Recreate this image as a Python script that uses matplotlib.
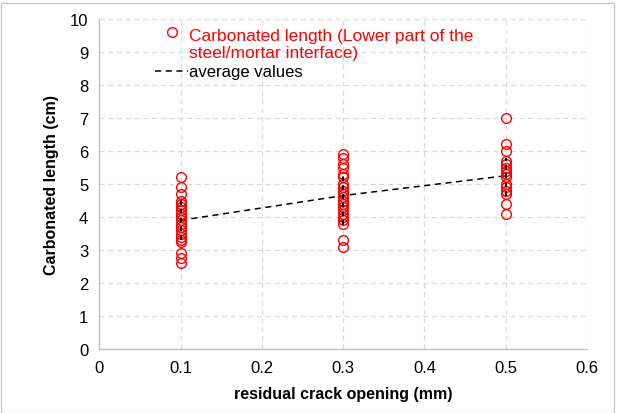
import matplotlib
matplotlib.use("Agg")
import matplotlib.pyplot as plt
from matplotlib.lines import Line2D
from matplotlib.patches import Rectangle

plt.rcParams['font.family'] = ['Liberation Sans', 'DejaVu Sans']

# Data
crack_openings = [0.1, 0.3, 0.5]
carb_01 = [5.2, 4.9, 4.7, 4.5, 4.4, 4.3, 4.2, 4.1, 4.0, 3.9, 3.8, 3.7, 3.6, 3.5, 3.4, 3.3, 3.25, 2.9, 2.75, 2.6]
carb_03 = [5.9, 5.8, 5.6, 5.5, 5.3, 5.2, 5.0, 4.9, 4.8, 4.7, 4.6, 4.5, 4.4, 4.3, 4.2, 4.1, 4.0, 3.9, 3.8, 3.3, 3.1]
carb_05 = [7.0, 6.2, 6.0, 5.7, 5.6, 5.5, 5.4, 5.3, 5.2, 5.0, 4.9, 4.8, 4.7, 4.4, 4.1]
average_values = [3.9, 4.65, 5.25]
range_low = [3.3, 3.75, 4.65]
range_high = [4.6, 5.3, 5.8]

x_ticks = [0, 0.1, 0.2, 0.3, 0.4, 0.5, 0.6]
y_ticks = list(range(0, 11))

fig = plt.figure(figsize=(6.19, 4.14), dpi=100)
ax = fig.add_axes([0.1607, 0.1546, 0.7876, 0.797])

grid_kw = dict(color='#d9d9d9', linestyle=(0, (4, 3)), linewidth=0.9, zorder=0)
for yt in y_ticks[1:]:
    ax.axhline(yt, **grid_kw)
for xt in x_ticks[1:]:
    ax.axvline(xt, **grid_kw)

# average line
ax.plot(crack_openings, average_values, color='black', linestyle=(0, (4, 3)), linewidth=1.1, zorder=2)

for x, vals in zip(crack_openings, [carb_01, carb_03, carb_05]):
    ax.plot([x] * len(vals), vals, linestyle='none', marker='o', markersize=7,
            markerfacecolor='none', markeredgecolor='#ff0000', markeredgewidth=1.0, zorder=3)

# vertical dashed segments within each cluster
for x, lo, hi in zip(crack_openings, range_low, range_high):
    ax.plot([x, x], [lo, hi], color='black', linestyle=(0, (2.5, 2)), linewidth=1.4, zorder=4)

ax.set_xlim(0, 0.6)
ax.set_ylim(0, 10)
ax.set_xticks(x_ticks)
ax.set_xticklabels(['0', '0.1', '0.2', '0.3', '0.4', '0.5', '0.6'])
ax.set_yticks(y_ticks)
ax.tick_params(axis='both', length=0, labelsize=12, pad=8)
for s in ['top', 'right']:
    ax.spines[s].set_visible(False)
for s in ['left', 'bottom']:
    ax.spines[s].set_color('#bfbfbf')
    ax.spines[s].set_linewidth(1.0)

ax.set_xlabel('residual crack opening (mm)', fontsize=11.5, fontweight='bold', labelpad=8)
ax.set_ylabel('Carbonated length (cm)', fontsize=11.5, fontweight='bold', labelpad=8)

# Legend (manual)
fig.add_artist(Line2D([172 / 619], [1 - 33 / 414], transform=fig.transFigure, marker='o',
                      markersize=7, markerfacecolor='none', markeredgecolor='#ff0000',
                      linestyle='none'))
fig.text(189 / 619, 1 - 45 / 414, 'Carbonated length (Lower part of the\nsteel/mortar interface)',
         color='#ff0000', fontsize=12.5, va='center', ha='left', linespacing=1.2)
fig.add_artist(Line2D([155 / 619, 188 / 619], [1 - 72 / 414, 1 - 72 / 414], transform=fig.transFigure,
                      color='black', linestyle=(0, (4, 3)), linewidth=1.1))
fig.text(189 / 619, 1 - 72 / 414, 'average values', color='black', fontsize=12, va='center', ha='left')

# chart border
fig.add_artist(Rectangle((0.5 / 619, 0), 613 / 619, 1 - 3.5 / 414, transform=fig.transFigure,
                         fill=False, edgecolor='#c8c8c8', linewidth=1.0))

fig.savefig('out.png', dpi=100)
